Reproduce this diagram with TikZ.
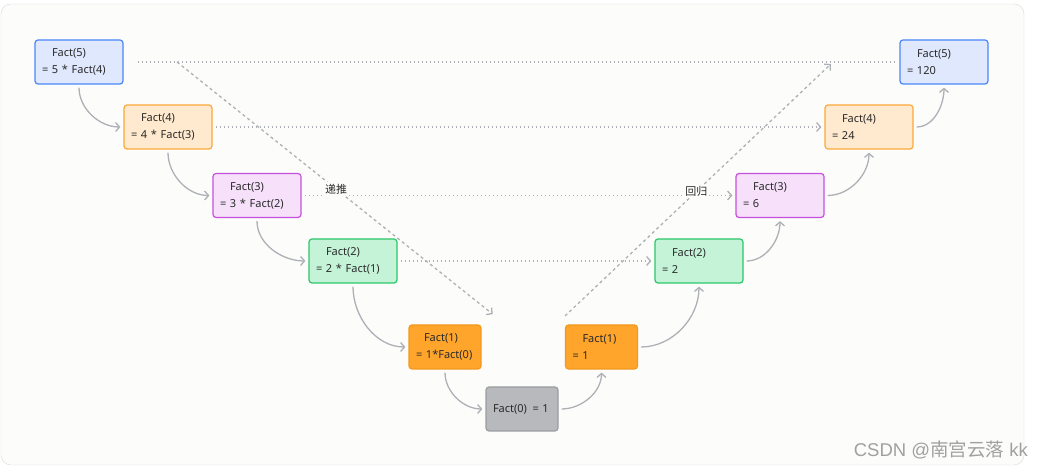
\documentclass[tikz,border=0pt]{standalone}
\usepackage{fontspec}
\setmainfont{Noto Sans}
\newfontfamily\cjk{Noto Sans CJK SC}
\newfontfamily\signfont{Liberation Sans}
\usetikzlibrary{arrows.meta}

\definecolor{ink}{HTML}{2A2A2A}
\definecolor{paper}{HTML}{FCFCFA}
\definecolor{rim}{HTML}{DADADA}
\definecolor{wire}{HTML}{ADB1B7}
\definecolor{blueF}{HTML}{DFE8FD}
\definecolor{blueD}{HTML}{4A86F7}
\definecolor{orgF}{HTML}{FFEACF}
\definecolor{orgD}{HTML}{FBA93A}
\definecolor{purF}{HTML}{F6E0FA}
\definecolor{purD}{HTML}{C650DE}
\definecolor{grnF}{HTML}{C4F3D8}
\definecolor{grnD}{HTML}{2CC76A}
\definecolor{dorgF}{HTML}{FFA52B}
\definecolor{dorgD}{HTML}{F4981F}
\definecolor{gryF}{HTML}{B7B9BC}
\definecolor{gryD}{HTML}{9B9DA0}
\definecolor{signgray}{HTML}{A0A0A0}

\tikzset{
  box/.style={draw, rounded corners=3pt, line width=1.2pt, minimum height=44pt,
    inner xsep=7pt, inner ysep=0pt, text width=74pt, align=left},
  narrow/.style={text width=58pt},
  flow/.style={draw=wire, line width=1.3pt, -{Straight Barb[length=4pt,width=9pt]},
    shorten <=3pt, shorten >=3pt},
  link/.style={flow, dash pattern=on 1.5pt off 2.5pt},
  dive/.style={flow, dash pattern=on 3pt off 3pt},
  tag/.style={fill=paper, inner sep=1.5pt, font=\cjk\fontsize{11}{13}\selectfont}
}

\begin{document}
\begin{tikzpicture}[x=1pt, y=1pt, every node/.style={font=\fontsize{11}{17}\selectfont, text=ink}]
  \useasboundingbox (0,0) rectangle (1042,468);
  \fill[white] (0,0) rectangle (1042,468);
  % Card behind the chart
  \draw[draw=rim, fill=paper, rounded corners=10pt] (1,3) rectangle (1024,464);

  % Calls going down
  \node[box, draw=blueD, fill=blueF] (L5) at (79,406) {\hspace*{10pt}Fact(5)\\= 5 * Fact(4)};
  \node[box, draw=orgD, fill=orgF] (L4) at (168,341) {\hspace*{10pt}Fact(4)\\= 4 * Fact(3)};
  \node[box, draw=purD, fill=purF] (L3) at (257,272.5) {\hspace*{10pt}Fact(3)\\= 3 * Fact(2)};
  \node[box, draw=grnD, fill=grnF] (L2) at (353,207) {\hspace*{10pt}Fact(2)\\= 2 * Fact(1)};
  \node[box, narrow, draw=dorgD, fill=dorgF] (L1) at (445,121) {\hspace*{8pt}Fact(1)\\= 1*Fact(0)};

  % Base case
  \node[box, narrow, draw=gryD, fill=gryF] (F0) at (522,59) {Fact(0)\enspace= 1};

  % Values coming back
  \node[box, narrow, draw=dorgD, fill=dorgF] (R1) at (601.5,121) {\hspace*{10pt}Fact(1)\\= 1};
  \node[box, draw=grnD, fill=grnF] (R2) at (699,207) {\hspace*{10pt}Fact(2)\\= 2};
  \node[box, draw=purD, fill=purF] (R3) at (780,272.5) {\hspace*{10pt}Fact(3)\\= 6};
  \node[box, draw=orgD, fill=orgF] (R4) at (869,341) {\hspace*{10pt}Fact(4)\\= 24};
  \node[box, draw=blueD, fill=blueF] (R5) at (944,406) {\hspace*{10pt}Fact(5)\\= 120};

  % Step arrows
  \draw[flow] (L5.south) to[out=-90,in=180] (L4.west);
  \draw[flow] (L4.south) to[out=-90,in=180] (L3.west);
  \draw[flow] (L3.south) to[out=-90,in=180] (L2.west);
  \draw[flow] (L2.south) to[out=-90,in=180] (L1.west);
  \draw[flow] (L1.south) to[out=-90,in=180] (F0.west);
  \draw[flow] (F0.east) to[out=0,in=-90] (R1.south);
  \draw[flow] (R1.east) to[out=0,in=-90] (R2.south);
  \draw[flow] (R2.east) to[out=0,in=-90] (R3.south);
  \draw[flow] (R3.east) to[out=0,in=-90] (R4.south);
  \draw[flow] (R4.east) to[out=0,in=-90] (R5.south);

  % Same level links
  \draw[link, -, shorten <=14pt] (L5.east) -- (R5.west);
  \draw[link] (L4.east) -- (R4.west);
  \draw[link] (L3.east) -- (R3.west);
  \draw[link] (L2.east) -- (R2.west);

  % Direction of the two phases
  \coordinate (dnA) at (177,406);
  \coordinate (dnB) at (495,152);
  \coordinate (upA) at (565,152);
  \coordinate (upB) at (833,406);
  \draw[dive, shorten <=0pt] (dnA) -- (dnB) node[tag, pos=0.5] (down) {递推};
  \draw[dive, shorten <=0pt] (upA) -- (upB) node[tag, pos=0.49] (back) {回归};

  \node[anchor=east, text=signgray, inner sep=0pt,
    font=\signfont\fontsize{18.5}{20}\selectfont] (sign) at (1028,18) {CSDN @{\cjk 南宫云落} kk};
\end{tikzpicture}
\end{document}
